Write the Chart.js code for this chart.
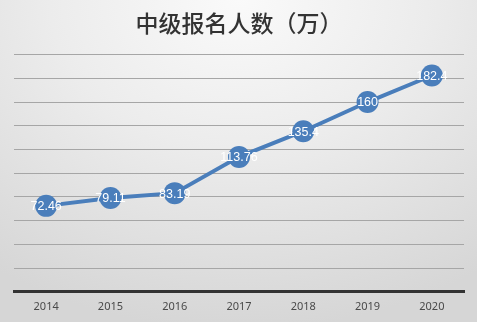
<!DOCTYPE html>
<html>
<head>
<meta charset="utf-8">
<script src="https://cdn.jsdelivr.net/npm/chart.js@4"></script>
<style>
    html, body {margin: 0; padding: 0;}
    body {
        width: 477px; height: 322px; overflow: hidden;
        background: radial-gradient(ellipse 420px 330px at 50% 0%, #fafafa 0%, #ececec 45%, #d6d6d6 100%);
    }
    #wrap {position: relative; width: 477px; height: 322px;}
</style>
</head>
<body>
<div id="wrap"><canvas id="applyChart" width="477" height="322"></canvas></div>
<script>
const years = ['2014', '2015', '2016', '2017', '2018', '2019', '2020'];
const applicants = [72.46, 79.11, 83.19, 113.76, 135.4, 160, 182.4];
const labelTexts = ['72.46', '79.11', '83.19', '113.76', '135.4', '160', '182.4'];
const yMin = 0, yMax = 200, yStep = 20;

//Nhãn trắng giữa các điểm
const pointLabels = {
    id: 'pointLabels',
    afterDatasetsDraw(chart) {
        const c = chart.ctx;
        const meta = chart.getDatasetMeta(0);
        c.save();
        c.fillStyle = '#ffffff';
        c.font = '12.5px "Liberation Sans Narrow", "Liberation Sans", sans-serif';
        c.textAlign = 'center';
        c.textBaseline = 'middle';
        meta.data.forEach((pt, i) => {
            c.fillText(labelTexts[i], pt.x, pt.y + 1);
        });
        c.restore();
    }
};

const ctx = document.getElementById('applyChart');
new Chart(ctx, {
    type: 'line',
    data: {
        labels: years,
        datasets: [{
            data: applicants,
            borderColor: '#4a7ebb',
            borderWidth: 4,
            pointRadius: 11,
            pointHoverRadius: 11,
            pointBackgroundColor: '#4a7ebb',
            pointBorderWidth: 0,
            tension: 0
        }]
    },
    options: {
        responsive: false,
        animation: false,
        devicePixelRatio: 1,
        layout: {padding: {top: 9, left: 14, right: 13, bottom: 1}},
        scales: {
            x: {
                offset: true,
                grid: {display: false, drawTicks: false},
                border: {color: '#333333', width: 3},
                ticks: {color: '#4a4a4a', font: {size: 11, family: '"Noto Sans", sans-serif'}, padding: 8}
            },
            y: {
                min: yMin, max: yMax,
                ticks: {display: false, stepSize: yStep},
                border: {display: false},
                grid: {color: '#a6a6a6', lineWidth: 1, drawTicks: false}
            }
        },
        plugins: {
            legend: {display: false},
            tooltip: {enabled: false},
            title: {
                display: true,
                text: '中级报名人数（万）',
                color: '#333333',
                font: {size: 23, family: '"Noto Sans CJK SC", sans-serif', weight: '500'},
                padding: {top: 0, bottom: 18}
            }
        }
    },
    plugins: [pointLabels]
});
</script>
</body>
</html>
